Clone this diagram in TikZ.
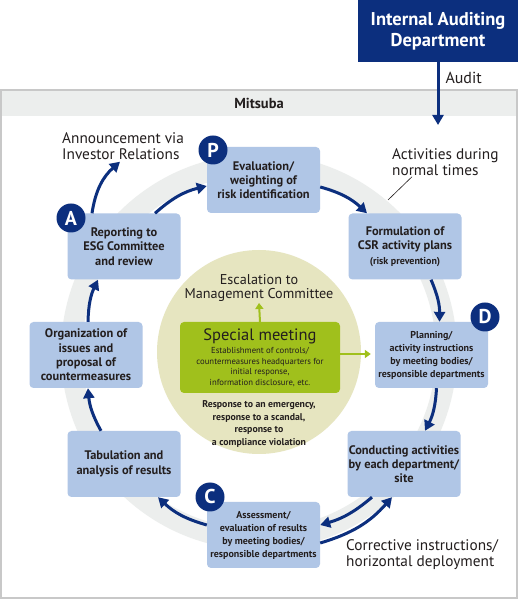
\documentclass[tikz,border=0pt]{standalone}
\usepackage{fontspec}
\setmainfont{PT Sans}
\usetikzlibrary{arrows.meta}
\definecolor{navy}{RGB}{12,47,126}
\definecolor{boxblue}{RGB}{176,198,230}
\definecolor{ringgray}{RGB}{236,238,237}
\definecolor{sand}{RGB}{230,229,192}
\definecolor{leaf}{RGB}{160,192,28}
\definecolor{framegray}{RGB}{200,200,200}
\definecolor{ink}{RGB}{35,30,30}
\begin{document}
\begin{tikzpicture}[x=1pt, y=1pt,
    stage/.style={fill=boxblue, rounded corners=4pt, minimum width=113pt, minimum height=66pt,
      inner sep=0pt, align=center, text=ink, font=\fontsize{12.4}{14.3}\selectfont\bfseries},
    smallstage/.style={stage, font=\fontsize{10}{13}\selectfont\bfseries},
    badge/.style={circle, fill=navy, text=white, minimum size=29pt, inner sep=0pt,
      font=\fontsize{20}{20}\selectfont\bfseries},
    flow/.style={navy, line width=3pt, -{Triangle[length=10pt,width=11pt]}},
    greenflow/.style={leaf, line width=2pt, -{Triangle[length=6pt,width=8pt]}},
    note/.style={align=left, text=ink, inner sep=0pt, font=\fontsize{15.3}{16}\selectfont}]
  \useasboundingbox (0,0) rectangle (518,600);

  % Frame and ring
  \draw[framegray, line width=1.5pt, fill=white] (1,2) rectangle (517,510);
  \fill[ringgray] (1.75,484) rectangle (516.25,509.25);
  \node[text=ink, font=\fontsize{14.5}{14.5}\selectfont\bfseries] (mitsuba) at (259,497) {Mitsuba};
  \draw[ringgray, line width=21pt] (259,248) circle (187.5);
  \fill[sand] (259,248) circle (102);

  % Nodes
  \node[fill=navy, text=white, minimum width=160pt, minimum height=62pt, align=center,
    font=\fontsize{18.5}{21}\selectfont\bfseries] (iad) at (438,569) {Internal Auditing\\Department};
  \coordinate (auditpt) at (438,475);

  \node[stage] (P) at (263.5,420) {Evaluation/\\weighting of\\risk identification};
  \node[stage] (F) at (405,353.5) {Formulation of\\CSR activity plans\\{\fontsize{10}{12}\selectfont(risk prevention)}};
  \node[smallstage] (D) at (431.5,245) {Planning/\\activity instructions\\by meeting bodies/\\responsible departments};
  \node[stage] (E) at (404,136) {Conducting activities\\by each department/\\site};
  \node[smallstage] (C) at (263.5,65) {Assessment/\\evaluation of results\\by meeting bodies/\\responsible departments};
  \node[stage] (T) at (124,136) {Tabulation and\\analysis of results};
  \node[stage] (O) at (86,245) {Organization of\\issues and\\proposal of\\countermeasures};
  \node[stage] (R) at (124,353.5) {Reporting to\\ESG Committee\\and review};

  \node[fill=leaf, rounded corners=4pt, minimum width=160pt, minimum height=71pt, inner sep=0pt,
    align=center, text=ink, font=\fontsize{8.7}{10.5}\selectfont] (sm) at (260,242.5)
    {{\fontsize{16.5}{19}\selectfont Special meeting}\\[3pt]Establishment of controls/\\countermeasures headquarters for\\initial response,\\information disclosure, etc.};
  \node[align=center, text=ink, inner sep=1pt, font=\fontsize{14.2}{14.5}\selectfont] (esc) at (259,312)
    {Escalation to\\Management Committee};
  \node[align=center, text=ink, font=\fontsize{9.8}{12.7}\selectfont\bfseries] (resp) at (259,176)
    {Response to an emergency,\\response to a scandal,\\response to\\a compliance violation};

  \node[note, anchor=west] (ann) at (62,454) {Announcement via\\Investor Relations};
  \node[note, anchor=west] (act) at (392,438) {Activities during\\normal times};
  \node[note, anchor=west] (corr) at (346,45) {Corrective instructions/\\horizontal deployment};
  \coordinate (ringpt) at (388,400);

  % Arrows
  \draw[flow] (iad.south) -- node[note, right=6pt, pos=0.25, font=\fontsize{16}{16}\selectfont] {Audit} (auditpt);
  \draw[flow] ([xshift=31pt]R.north) to[bend left=14] ([yshift=-6pt]P.west);
  \draw[flow] ([yshift=-7pt]P.east) to[bend left=14] ([xshift=-38pt]F.north);
  \draw[flow] ([xshift=26pt]F.south) to[bend left=12] ([xshift=8pt]D.north);
  \draw[flow] ([xshift=5pt]D.south) to[bend left=12] ([xshift=21pt]E.north);
  \draw[flow] ([xshift=-32pt]E.south) to[bend left=12] ([yshift=10pt]C.east);
  \draw[flow] ([yshift=-8pt]C.east) to[bend right=16] ([xshift=-12pt]E.south);
  \draw[flow] ([yshift=10pt]C.west) to[bend left=14] ([xshift=34pt]T.south);
  \draw[flow] ([xshift=-23pt]T.north) to[bend left=12] ([xshift=2pt]O.south);
  \draw[flow] ([xshift=2pt]O.north) to[bend left=12] ([xshift=-26pt]R.south);
  \draw[flow] ([xshift=-32pt]R.north) to[bend left=20] ([xshift=58pt,yshift=-2pt]ann.south west);
  \draw[greenflow] (sm.north) -- (esc.south);
  \draw[greenflow, shorten >=4pt] ([yshift=3.5pt]sm.east) -- ([yshift=1pt]D.west);
  \draw[ink, line width=0.6pt] (ringpt) -- ([xshift=20pt,yshift=-1pt]act.south west);

  % Badges
  \node[badge] (bP) at (213,450) {P};
  \node[badge] (bA) at (71,382) {A};
  \node[badge] (bD) at (485,283) {D};
  \node[badge] (bC) at (210,103) {C};
\end{tikzpicture}
\end{document}
